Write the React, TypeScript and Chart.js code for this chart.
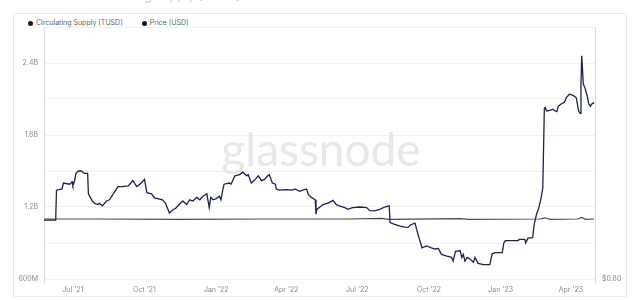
import React, { useEffect, useRef } from "react";
import { Chart, registerables } from "chart.js";

Chart.register(...registerables);

const supplyDates = [
  "2021-05-25","2021-06-09","2021-06-10","2021-06-17","2021-06-19","2021-06-27","2021-06-30","2021-07-01","2021-07-03","2021-07-05",
  "2021-07-08","2021-07-12","2021-07-16","2021-07-20","2021-07-21","2021-07-26","2021-07-29","2021-08-02","2021-08-04","2021-08-08",
  "2021-08-13","2021-08-17","2021-08-24","2021-08-28","2021-09-02","2021-09-10","2021-09-12","2021-09-16","2021-09-21","2021-09-25",
  "2021-10-01","2021-10-04","2021-10-10","2021-10-14","2021-10-24","2021-10-28","2021-11-02","2021-11-06","2021-11-10","2021-11-15",
  "2021-11-19","2021-11-24","2021-11-28","2021-12-02","2021-12-07","2021-12-11","2021-12-15","2021-12-20","2021-12-23","2021-12-25",
  "2021-12-28","2022-01-01","2022-01-05","2022-01-07","2022-01-09","2022-01-11","2022-01-18","2022-01-20","2022-01-25","2022-01-31",
  "2022-02-04","2022-02-09","2022-02-11","2022-02-15","2022-02-20","2022-02-24","2022-02-28","2022-03-04","2022-03-08","2022-03-10",
  "2022-03-14","2022-03-18","2022-03-19","2022-03-23","2022-04-01","2022-04-09","2022-04-12","2022-04-18","2022-04-22","2022-04-27",
  "2022-04-29","2022-05-03","2022-05-08","2022-05-09","2022-05-10","2022-05-14","2022-05-18","2022-05-25","2022-05-31","2022-06-04",
  "2022-06-08","2022-06-15","2022-06-19","2022-06-25","2022-07-04","2022-07-13","2022-07-17","2022-07-23","2022-07-30","2022-08-05",
  "2022-08-11","2022-08-12","2022-08-18","2022-08-25","2022-08-31","2022-09-04","2022-09-07","2022-09-13","2022-09-17","2022-09-22",
  "2022-09-28","2022-10-04","2022-10-09","2022-10-13","2022-10-17","2022-10-24","2022-10-30","2022-11-01","2022-11-04","2022-11-10",
  "2022-11-12","2022-11-14","2022-11-16","2022-11-19","2022-11-23","2022-11-27","2022-11-29","2022-12-03","2022-12-10","2022-12-18",
  "2022-12-21","2022-12-25","2023-01-03","2023-01-05","2023-01-07","2023-01-23","2023-01-25","2023-02-01","2023-02-02","2023-02-05",
  "2023-02-11","2023-02-13","2023-02-16","2023-02-19","2023-02-22","2023-02-24","2023-02-26","2023-02-27","2023-03-01","2023-03-05",
  "2023-03-09","2023-03-12","2023-03-14","2023-03-16","2023-03-20","2023-03-24","2023-03-26","2023-03-30","2023-04-04","2023-04-08",
  "2023-04-11","2023-04-13","2023-04-14","2023-04-15","2023-04-17","2023-04-19","2023-04-22","2023-04-24","2023-04-26","2023-04-28",
  "2023-05-01"
];

// Circulating supply in billions of TUSD
const supplyValues = [
  1.09,1.09,1.34,1.35,1.40,1.39,1.41,1.38,1.41,1.48,
  1.50,1.50,1.48,1.48,1.31,1.25,1.23,1.22,1.23,1.21,
  1.25,1.26,1.33,1.37,1.37,1.375,1.39,1.42,1.37,1.39,
  1.43,1.32,1.31,1.275,1.26,1.23,1.15,1.175,1.19,1.225,
  1.25,1.22,1.26,1.25,1.28,1.26,1.29,1.31,1.195,1.28,
  1.26,1.27,1.29,1.26,1.33,1.39,1.40,1.39,1.46,1.47,
  1.49,1.46,1.47,1.40,1.43,1.46,1.42,1.43,1.46,1.47,
  1.40,1.39,1.35,1.34,1.345,1.34,1.35,1.33,1.34,1.35,
  1.305,1.28,1.26,1.14,1.18,1.20,1.22,1.235,1.255,1.22,
  1.21,1.195,1.18,1.195,1.20,1.195,1.17,1.167,1.18,1.20,
  1.21,1.07,1.055,1.04,1.033,1.03,1.05,1.065,0.97,0.86,
  0.875,0.86,0.85,0.855,0.805,0.79,0.78,0.75,0.83,0.835,
  0.78,0.805,0.75,0.78,0.765,0.74,0.78,0.73,0.72,0.72,
  0.81,0.82,0.82,0.90,0.92,0.92,0.93,0.93,0.90,0.94,
  0.945,1.055,1.14,1.195,1.28,1.36,2.02,2.03,2.00,2.005,
  2.015,2.00,1.995,2.04,2.06,2.075,2.11,2.14,2.13,2.11,
  2.00,1.98,2.225,2.46,2.225,2.195,2.125,2.06,2.04,2.06,
  2.07
];

const priceDates = [
  "2021-05-25","2021-08-01","2021-11-15","2022-03-01","2022-06-20","2022-08-01","2022-08-10","2022-11-10",
  "2022-11-20","2023-02-20","2023-02-27","2023-03-05","2023-04-10","2023-04-15","2023-04-20","2023-05-01"
];
const priceValues = [
  1.0,1.0,0.999,1.0,1.0,1.002,0.999,1.001,
  0.999,1.0,1.004,0.999,1.0,1.005,0.999,1.0
];

const xTickDates = ["2021-07-01","2021-10-01","2022-01-01","2022-04-01","2022-07-01","2022-10-01","2023-01-01","2023-04-01"];
const xTickLabels = ["Jul '21","Oct '21","Jan '22","Apr '22","Jul '22","Oct '22","Jan '23","Apr '23"];
const xRange = ["2021-05-25","2023-05-02"];

const yTickValues = [0.6,0.9,1.2,1.5,1.8,2.1,2.4,2.7];
const yTickLabels = ["600M","","1.2B","","1.8B","","2.4B",""];
const yRange = [0.575, 2.7];

const y1TickValues = [0.8];
const y1TickLabels = ["$0.80"];
const y1Range = [0.79, 1.64];

const legendItems = ["Circulating Supply [TUSD]", "Price [USD]"];

const toMs = (d: string) => {
  const [y, m, day] = d.split("-").map(Number);
  return Date.UTC(y, m - 1, day);
};

const watermark = {
  id: "watermark",
  beforeDatasetsDraw(chart: any) {
    const ctx = chart.ctx;
    ctx.save();
    ctx.font = "46px Lato";
    ctx.fillStyle = "#e8e8e8";
    ctx.textAlign = "center";
    ctx.textBaseline = "alphabetic";
    ctx.fillText("glassnode", 321, 166);
    ctx.restore();
  },
};

export default function App() {
  const ref = useRef<HTMLCanvasElement>(null);

  useEffect(() => {
    if (!ref.current) return;
    const font = { family: "Inter", size: 7 };
    const chart = new Chart(ref.current, {
      type: "line",
      data: {
        datasets: [
          {
            label: legendItems[0],
            data: supplyDates.map((d, i) => ({ x: toMs(d), y: supplyValues[i] })),
            borderColor: "#1d2050",
            borderWidth: 1.3,
            pointRadius: 0,
            tension: 0,
            yAxisID: "y",
            order: 0,
          },
          {
            label: legendItems[1],
            data: priceDates.map((d, i) => ({ x: toMs(d), y: priceValues[i] })),
            borderColor: "#4a4a4a",
            borderWidth: 1.2,
            pointRadius: 0,
            tension: 0,
            yAxisID: "y1",
            order: 1,
          },
        ],
      },
      options: {
        animation: false,
        responsive: false,
        devicePixelRatio: 1,
        layout: { padding: { left: 14, right: 13, top: 27, bottom: 7 } },
        plugins: { legend: { display: false }, tooltip: { enabled: false } },
        scales: {
          x: {
            type: "linear",
            min: toMs(xRange[0]),
            max: toMs(xRange[1]),
            grid: { display: false, drawTicks: false },
            border: { display: false },
            afterBuildTicks: (s: any) => {
              s.ticks = xTickDates.map((d) => ({ value: toMs(d) }));
            },
            afterFit: (s: any) => {
              s.height = 12;
            },
            ticks: {
              autoSkip: false,
              maxRotation: 0,
              padding: 4,
              color: "#8a8a8a",
              font,
              callback: (_v: any, i: number) => xTickLabels[i],
            },
          },
          y: {
            type: "linear",
            position: "left",
            min: yRange[0],
            max: yRange[1],
            grid: { color: "#f1f1f1", drawTicks: false },
            border: { display: true, color: "#dcdcdc" },
            afterBuildTicks: (s: any) => {
              s.ticks = yTickValues.map((v) => ({ value: v }));
            },
            afterFit: (s: any) => {
              s.width = 30;
            },
            ticks: {
              padding: 6,
              color: "#8a8a8a",
              font,
              callback: (_v: any, i: number) => yTickLabels[i],
            },
          },
          y1: {
            type: "linear",
            position: "right",
            min: y1Range[0],
            max: y1Range[1],
            grid: { display: false, drawOnChartArea: false, drawTicks: false },
            border: { display: true, color: "#dcdcdc" },
            afterBuildTicks: (s: any) => {
              s.ticks = y1TickValues.map((v) => ({ value: v }));
            },
            afterFit: (s: any) => {
              s.width = 32;
            },
            ticks: {
              padding: 7,
              color: "#8a8a8a",
              font,
              callback: (_v: any, i: number) => y1TickLabels[i],
            },
          },
        },
      },
      plugins: [watermark],
    } as any);
    return () => chart.destroy();
  }, []);

  const dot: React.CSSProperties = {
    display: "inline-block",
    width: 5,
    height: 5,
    borderRadius: "50%",
    background: "#15162e",
    marginRight: 3,
    verticalAlign: "middle",
  };

  return (
    <div style={{ position: "absolute", left: 0, top: 0, width: 640, height: 301, overflow: "hidden", background: "#fff", fontFamily: "Inter, sans-serif" }}>
      <div style={{ position: "absolute", left: 30, top: -12, fontSize: 12, fontWeight: 600, color: "#dadada", whiteSpace: "nowrap", filter: "blur(0.6px)" }}>
        TrueUSD: Circulating Supply [TUSD]
      </div>
      <div style={{ position: "absolute", left: 13, top: 13, width: 612, height: 282, border: "1px solid #e8e8e8", borderRadius: 2 }} />
      <div style={{ position: "absolute", left: 28, top: 18, fontSize: 7, color: "#666", whiteSpace: "nowrap", lineHeight: "10px" }}>
        <span style={dot} />
        <span style={{ verticalAlign: "middle" }}>{legendItems[0]}</span>
        <span style={{ display: "inline-block", width: 19 }} />
        <span style={dot} />
        <span style={{ verticalAlign: "middle" }}>{legendItems[1]}</span>
      </div>
      <canvas ref={ref} width={640} height={301} style={{ position: "absolute", left: 0, top: 0, width: 640, height: 301 }} />
    </div>
  );
}
